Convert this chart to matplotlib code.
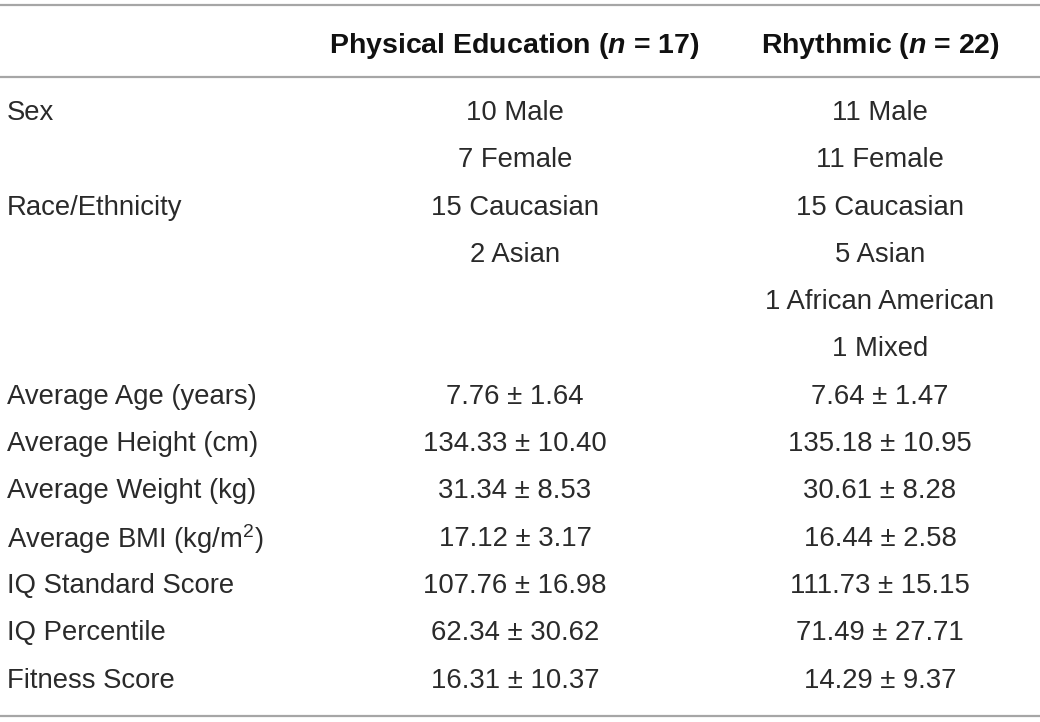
import matplotlib.pyplot as plt

plt.rcParams['font.family'] = ['Liberation Sans', 'DejaVu Sans']
plt.rcParams['mathtext.fontset'] = 'custom'
plt.rcParams['mathtext.rm'] = 'Liberation Sans'
plt.rcParams['mathtext.it'] = 'Liberation Sans:bold:italic'
plt.rcParams['mathtext.bf'] = 'Liberation Sans:bold'

# --- table content ---
headers = ["", "Physical Education ($n$ = 17)", "Rhythmic ($n$ = 22)"]
row_labels = ["Sex", "", "Race/Ethnicity", "", "", "",
              "Average Age (years)", "Average Height (cm)", "Average Weight (kg)",
              "Average BMI (kg/m$^{2}$)", "IQ Standard Score", "IQ Percentile",
              "Fitness Score"]
pe_values = ["10 Male", "7 Female", "15 Caucasian", "2 Asian", "", "",
             "7.76 \u00b1 1.64", "134.33 \u00b1 10.40", "31.34 \u00b1 8.53",
             "17.12 \u00b1 3.17", "107.76 \u00b1 16.98", "62.34 \u00b1 30.62",
             "16.31 \u00b1 10.37"]
rhy_values = ["11 Male", "11 Female", "15 Caucasian", "5 Asian",
              "1 African American", "1 Mixed",
              "7.64 \u00b1 1.47", "135.18 \u00b1 10.95", "30.61 \u00b1 8.28",
              "16.44 \u00b1 2.58", "111.73 \u00b1 15.15", "71.49 \u00b1 27.71",
              "14.29 \u00b1 9.37"]

fig = plt.figure(figsize=(10.4, 7.22), dpi=100)
ax = fig.add_axes([0, 0, 1, 1])
ax.set_xlim(0, 1040)
ax.set_ylim(722, 0)
ax.axis('off')

txt_color = '#2a2a2a'
rule_color = '#a6a6a6'
fs = 19.8

# rules
for y in (5, 77, 716):
    ax.axhline(y, color=rule_color, lw=1.6)

# header
ax.text(514, 46, headers[1], ha='center', va='center', fontsize=20.5,
        fontweight='bold', color='#111111')
ax.text(880, 46, headers[2], ha='center', va='center', fontsize=20.5,
        fontweight='bold', color='#111111')

# body
y0, dy = 113, 47.3
for i, (lab, a, b) in enumerate(zip(row_labels, pe_values, rhy_values)):
    y = y0 + i * dy
    ax.text(7, y, lab, ha='left', va='center', fontsize=fs, color=txt_color)
    ax.text(515, y, a, ha='center', va='center', fontsize=fs, color=txt_color)
    ax.text(880, y, b, ha='center', va='center', fontsize=fs, color=txt_color)

fig.savefig('out.png', dpi=100)
